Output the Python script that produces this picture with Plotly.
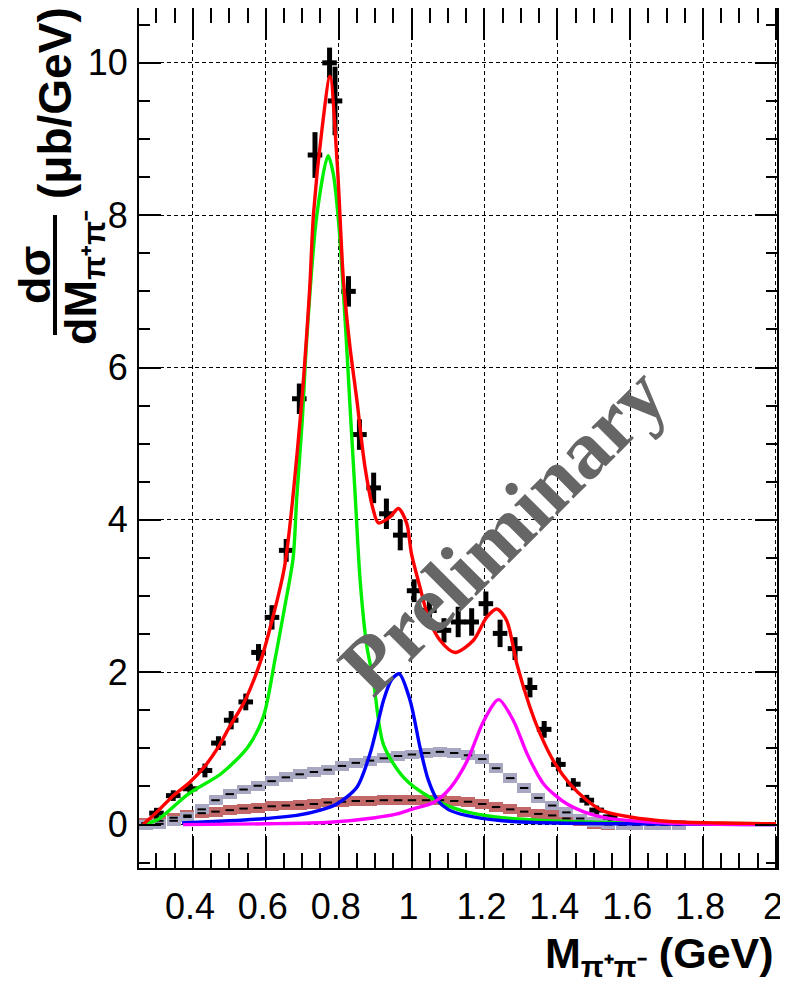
import plotly.graph_objects as go

# ---------------- data ----------------
data_x = [0.300, 0.346, 0.392, 0.433, 0.470, 0.505, 0.545, 0.580, 0.617, 0.656, 0.692,
          0.735, 0.775, 0.790, 0.827, 0.857, 0.896, 0.931, 0.969, 1.007, 1.049, 1.089,
          1.128, 1.165, 1.204, 1.243, 1.284, 1.325, 1.364, 1.403, 1.444, 1.481, 1.508, 1.545]
data_y = [0.15, 0.38, 0.47, 0.71, 1.07, 1.37, 1.61, 2.26, 2.72, 3.60, 5.59,
          8.79, 10.0, 9.50, 7.00, 5.12, 4.42, 4.08, 3.80, 3.07, 2.81, 2.55,
          2.66, 2.66, 2.90, 2.51, 2.31, 1.80, 1.25, 0.79, 0.53, 0.32, 0.19, 0.10]
data_err = [0.07, 0.07, 0.07, 0.09, 0.09, 0.12, 0.11, 0.11, 0.16, 0.15, 0.20,
            0.30, 0.20, 0.45, 0.20, 0.20, 0.20, 0.20, 0.20, 0.15, 0.16, 0.16,
            0.20, 0.18, 0.16, 0.18, 0.15, 0.13, 0.11, 0.09, 0.08, 0.07, 0.06, 0.05]
data_xerr = [0.02] * len(data_x)

total_x = [0.263, 0.300, 0.346, 0.390, 0.430, 0.470, 0.500, 0.542, 0.584, 0.615, 0.652,
           0.694, 0.720, 0.731, 0.754, 0.776, 0.796, 0.813, 0.831, 0.850, 0.872,
           0.895, 0.909, 0.941, 0.964, 0.987, 1.000, 1.023, 1.046, 1.078, 1.119, 1.170,
           1.206, 1.234, 1.261, 1.289, 1.325, 1.353, 1.389, 1.435, 1.481, 1.525, 1.600,
           1.710, 1.850, 2.000]
total_y = [0.00, 0.16, 0.38, 0.55, 0.75, 1.02, 1.28, 1.62, 2.12, 2.64, 3.40,
           5.30, 7.00, 8.02, 9.12, 9.82, 8.68, 7.15, 6.27, 5.57, 4.70,
           4.13, 3.96, 4.04, 4.15, 3.95, 3.55, 3.12, 2.72, 2.42, 2.26, 2.42,
           2.72, 2.83, 2.68, 2.11, 1.54, 1.19, 0.84, 0.53, 0.32, 0.18, 0.10,
           0.04, 0.02, 0.01]

rho_x = [0.263, 0.305, 0.387, 0.478, 0.551, 0.593, 0.625, 0.652, 0.675, 0.685, 0.700,
         0.712, 0.740, 0.771, 0.785, 0.800, 0.818, 0.831, 0.845, 0.859, 0.877, 0.895,
         0.923, 0.978, 1.050, 1.140, 1.230, 1.335, 1.500, 1.700, 2.000]
rho_y = [0.00, 0.07, 0.40, 0.67, 1.02, 1.41, 2.16, 2.86, 3.50, 4.30, 5.30,
         6.35, 8.00, 8.78, 8.55, 7.90, 6.60, 5.50, 4.35, 3.20, 2.35, 1.90,
         1.05, 0.62, 0.36, 0.18, 0.10, 0.06, 0.03, 0.02, 0.01]

f0_x = [0.370, 0.500, 0.600, 0.685, 0.750, 0.795, 0.850, 0.886, 0.905, 0.923, 0.945,
        0.966, 0.996, 1.023, 1.045, 1.070, 1.100, 1.150, 1.250, 1.400, 1.600, 2.000]
f0_y = [0.02, 0.05, 0.08, 0.12, 0.19, 0.27, 0.49, 0.93, 1.28, 1.63, 1.90,
        1.98, 1.63, 1.02, 0.60, 0.33, 0.20, 0.12, 0.05, 0.02, 0.01, 0.00]

f2_x = [0.373, 0.600, 0.776, 0.900, 0.960, 1.000, 1.060, 1.106, 1.152, 1.198, 1.239,
        1.280, 1.317, 1.363, 1.427, 1.520, 1.700, 2.000]
f2_y = [0.00, 0.01, 0.03, 0.09, 0.14, 0.20, 0.29, 0.48, 0.83, 1.36, 1.64,
        1.36, 0.93, 0.53, 0.27, 0.10, 0.02, 0.00]

band_x = [0.270, 0.308, 0.347, 0.385, 0.424, 0.462, 0.501, 0.539, 0.578, 0.616, 0.655,
          0.693, 0.732, 0.770, 0.809, 0.847, 0.886, 0.924, 0.963, 1.001, 1.040, 1.078,
          1.117, 1.155, 1.194, 1.232, 1.271, 1.309, 1.348, 1.386, 1.425, 1.463, 1.502,
          1.540, 1.579, 1.617, 1.656, 1.694, 1.733]
gray_y = [0.00, 0.01, 0.05, 0.10, 0.20, 0.32, 0.40, 0.46, 0.51, 0.57, 0.62,
          0.66, 0.69, 0.72, 0.77, 0.81, 0.84, 0.87, 0.90, 0.92, 0.94, 0.955,
          0.94, 0.91, 0.86, 0.74, 0.61, 0.48, 0.35, 0.25, 0.16, 0.08, 0.03,
          0.01, 0.00, 0.00, 0.00, 0.00, 0.00]
brown_y = [0.02, 0.05, 0.09, 0.12, 0.15, 0.17, 0.19, 0.21, 0.22, 0.24, 0.25,
           0.26, 0.27, 0.29, 0.30, 0.31, 0.31, 0.32, 0.32, 0.32, 0.32, 0.32,
           0.31, 0.30, 0.27, 0.23, 0.20, 0.17, 0.14, 0.12, 0.08, 0.04, 0.01,
           0.00, 0.00, 0.00, 0.00, 0.00, 0.00]
band_half = 0.065
band_width = 0.0385

x_tickvals = [0.4, 0.6, 0.8, 1.0, 1.2, 1.4, 1.6, 1.8, 2.0]
x_ticktext = ["0.4", "0.6", "0.8", "1", "1.2", "1.4", "1.6", "1.8", "2"]
y_tickvals = [0, 2, 4, 6, 8, 10]
y_ticktext = ["0", "2", "4", "6", "8", "10"]

# ---------------- figure ----------------
# The page body has an 8px margin, so the figure is drawn 8px smaller and
# positions below are given in page pixels, then shifted.
OFF = 8
W, H = 788 - OFF, 982 - OFF
L, R, T, B = 139 - OFF, 777 - OFF, 8 - OFF, 868 - OFF


def px(xp):
    return (xp - OFF - L) / (R - L)


def py(yp):
    return (B - (yp - OFF)) / (B - T)


fig = go.Figure()

for vals, col in [(brown_y, "#c26868"), (gray_y, "#a8a8c2")]:
    fig.add_trace(go.Bar(
        x=band_x, y=[2 * band_half] * len(band_x),
        base=[v - band_half for v in vals], width=band_width,
        marker=dict(color=col, line=dict(width=0)), showlegend=False, hoverinfo="skip"))
    fig.add_trace(go.Scatter(
        x=band_x, y=vals, mode="markers", showlegend=False, hoverinfo="skip",
        marker=dict(symbol="line-ew", size=6, line=dict(color="black", width=2))))

fig.add_trace(go.Scatter(
    x=data_x, y=data_y, mode="markers", showlegend=False,
    marker=dict(color="black", size=2),
    error_y=dict(type="data", array=data_err, color="black", thickness=5, width=0),
    error_x=dict(type="data", array=data_xerr, color="black", thickness=5, width=0)))

for xs, ys, col in [(rho_x, rho_y, "#00ee00"), (f0_x, f0_y, "#0000ff"),
                    (f2_x, f2_y, "#ff00ff"), (total_x, total_y, "#ff0000")]:
    fig.add_trace(go.Scatter(x=xs, y=ys, mode="lines", showlegend=False,
                             line=dict(color=col, width=3.4, shape="spline", smoothing=0.8)))

axis_common = dict(
    showline=True, linecolor="black", linewidth=2, mirror="ticks",
    ticks="inside", tickwidth=2, tickcolor="black",
    showgrid=True, gridcolor="black", gridwidth=1.2, griddash="4px,3px",
    zeroline=False,
    tickfont=dict(family="Liberation Sans, Arial", size=36, color="black"),
)

fig.update_xaxes(range=[0.252, 2.003], tickmode="array", tickvals=x_tickvals,
                 ticktext=x_ticktext, ticklen=32, ticklabelstandoff=6, ticklabelshift=-3,
                 minor=dict(ticks="inside", ticklen=15, tickwidth=2, tickcolor="black",
                            dtick=0.05, tick0=0, showgrid=False),
                 **axis_common)
fig.update_yaxes(range=[-0.57, 10.72], tickmode="array", tickvals=y_tickvals,
                 ticktext=y_ticktext, ticklen=22, ticklabelstandoff=2,
                 minor=dict(ticks="inside", ticklen=11, tickwidth=2, tickcolor="black",
                            dtick=0.5, tick0=0, showgrid=False),
                 **axis_common)

bold = dict(family="Liberation Sans, Arial", size=45, color="black")
ann = [
    dict(text="<b>(μb/GeV)</b>", x=px(55), y=py(103), textangle=-90,
         font=dict(family="Liberation Sans, Arial", size=46, color="black")),
    dict(text="<b>dσ</b>", x=px(34), y=py(275), textangle=-90, font=bold),
    dict(text="<b>dM<sub>π⁺π⁻</sub></b>", x=px(83), y=py(278), textangle=-90, font=bold),
    dict(text="<b>M<sub>π⁺π⁻</sub> (GeV)</b>", x=px(776), y=py(956), xanchor="right",
         yanchor="middle", font=dict(family="Liberation Sans, Arial", size=43, color="black")),
    dict(text="<b>Preliminary</b>", x=px(503), y=py(531), textangle=-45,
         font=dict(family="Liberation Serif, Times New Roman", size=82, color="#666666")),
]
for a in ann:
    a.setdefault("xanchor", "center")
    a.setdefault("yanchor", "middle")
    fig.add_annotation(xref="paper", yref="paper", showarrow=False, **a)

fig.add_shape(type="line", xref="paper", yref="paper",
              x0=px(55), x1=px(55), y0=py(215), y1=py(335),
              line=dict(color="black", width=4))

fig.update_layout(
    width=W, height=H, paper_bgcolor="white", plot_bgcolor="white",
    margin=dict(l=L, r=W - R, t=T, b=H - B, autoexpand=False),
    bargap=0, barmode="overlay", showlegend=False,
)

fig.write_html("out.html")
